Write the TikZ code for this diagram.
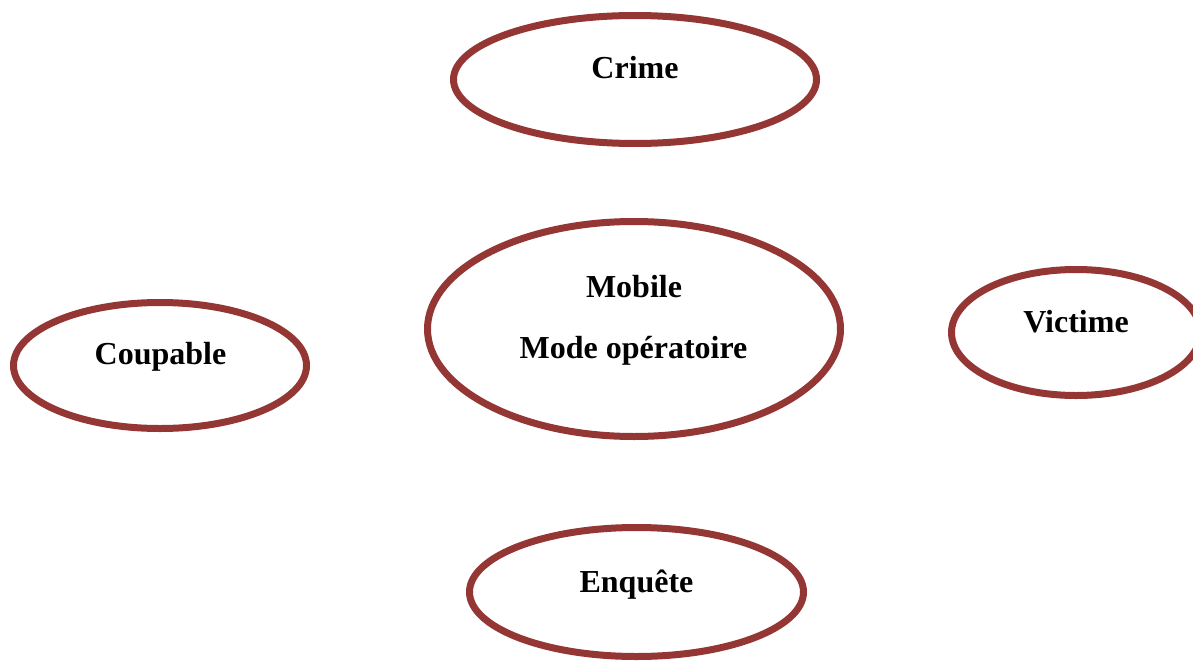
\documentclass[tikz,border=0pt]{standalone}
\usepackage{fontspec}
\setmainfont{Liberation Serif}
\usetikzlibrary{shapes.geometric}
\definecolor{ovalred}{HTML}{943634}
\tikzset{
  oval/.style={draw=ovalred, line width=7pt, ellipse, inner sep=0pt},
  lbl/.style={anchor=base, inner sep=0.75pt, font=\fontsize{32}{38}\selectfont\bfseries}
}
\begin{document}
\begin{tikzpicture}[x=1pt,y=1pt,yscale=-1,xscale=1]
\useasboundingbox (0,0) rectangle (1193,661);

%Shape: Ellipse [id:crime]
\draw (635,79.5) node [oval, minimum width=363pt, minimum height=128pt] (crime) {};
%Shape: Ellipse [id:mobile]
\draw (634,329) node [oval, minimum width=413pt, minimum height=215pt] (mobile) {};
%Shape: Ellipse [id:coupable]
\draw (160,365.5) node [oval, minimum width=293pt, minimum height=126pt] (coupable) {};
%Shape: Ellipse [id:victime]
\draw (1076,332.5) node [oval, minimum width=249pt, minimum height=126pt] (victime) {};
%Shape: Ellipse [id:enquete]
\draw (636.5,592) node [oval, minimum width=334pt, minimum height=129pt] (enquete) {};

% Text Node
\draw (635,78) node [lbl] (crimetxt) {Crime};
% Text Node
\draw (634,297) node [lbl] (mobiletxt) {Mobile};
% Text Node
\draw (633.5,358) node [lbl] (modetxt) {Mode opératoire};
% Text Node
\draw (160.5,364) node [lbl] (coupabletxt) {Coupable};
% Text Node
\draw (1076,332) node [lbl] (victimetxt) {Victime};
% Text Node
\draw (636.5,592) node [lbl] (enquetetxt) {Enquête};

\end{tikzpicture}
\end{document}
